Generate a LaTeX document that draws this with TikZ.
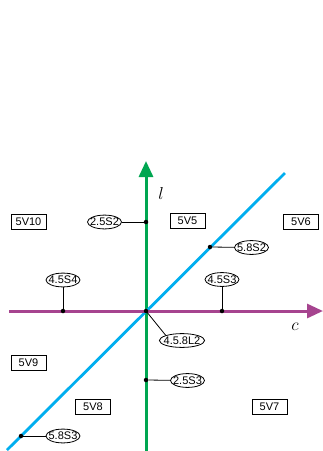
\documentclass[tikz,border=0pt]{standalone}
\usepackage{fontspec}
\setmainfont{Liberation Sans}
\usetikzlibrary{arrows.meta,shapes.geometric}
\definecolor{axisgreen}{HTML}{00A651}
\definecolor{axispurple}{HTML}{A6448F}
\definecolor{diagblue}{HTML}{00AEEF}
\begin{document}
\begin{tikzpicture}[x=1pt,y=-1pt,
  region/.style={draw=black, line width=0.8pt, rectangle, minimum width=35pt,
    minimum height=15pt, inner sep=0pt, font=\fontsize{11}{12}\selectfont},
  tag/.style={draw=black, line width=0.8pt, ellipse, inner xsep=-2.35pt,
    inner ysep=1pt, fill=white, font=\fontsize{11}{12}\selectfont},
  dot/.style={circle, fill=black, inner sep=0pt, minimum size=4.5pt},
  leader/.style={black, line width=0.8pt},
  axisline/.style={line width=3pt, -{Triangle[length=16pt,width=14pt]}},
  axislabel/.style={font=\fontsize{19}{20}\selectfont},
]
\useasboundingbox (0,0) rectangle (323,451);

% end points of the three lines
\coordinate (O) at (146,311);
\coordinate (ltop) at (146,161);
\coordinate (lbot) at (146,451);
\coordinate (cleft) at (9,311);
\coordinate (cright) at (323,311);
\coordinate (dlow) at (7,450);
\coordinate (dhigh) at (285,173);

% lines
\draw[axisgreen, axisline] (lbot) -- (ltop);
\draw[diagblue, line width=2.8pt] (dlow) -- (dhigh);
\draw[axispurple, axisline] (cleft) -- (cright);

% axis names
\node[axislabel] (lname) at (161,193) {$l$};
\node[axislabel] (cname) at (295,327) {$c$};

% region boxes
\node[region] (v10) at (28.5,221.5) {5V10};
\node[region] (v5)  at (187.5,220.5) {5V5};
\node[region] (v6)  at (301,222) {5V6};
\node[region] (v9)  at (28.5,363) {5V9};
\node[region] (v8)  at (93,406.5) {5V8};
\node[region] (v7)  at (269.5,407) {5V7};

% points on the lines
\node[dot] (p1) at (146,222) {};
\node[dot] (p2) at (210,247) {};
\node[dot] (p3) at (63,311) {};
\node[dot] (p4) at (222,311) {};
\node[dot] (p5) at (O) {};
\node[dot] (p6) at (146,380) {};
\node[dot] (p7) at (21,436) {};

% point tags
\node[tag] (s1) at (104.5,222) {2.5S2};
\node[tag] (s2) at (251.5,247.5) {5.8S2};
\node[tag] (s3) at (63,280) {4.5S4};
\node[tag] (s4) at (222,279.5) {4.5S3};
\node[tag] (s5) at (182,340.5) {4.5.8L2};
\node[tag] (s6) at (187.5,380.5) {2.5S3};
\node[tag] (s7) at (63,436) {5.8S3};

% leaders
\draw[leader] (p1) -- (s1);
\draw[leader] (p2) -- (s2);
\draw[leader] (p3) -- (s3);
\draw[leader] (p4) -- (s4);
\draw[leader] (p5.center) -- (s5.north west);
\draw[leader] (p6) -- (s6);
\draw[leader] (p7) -- (s7);
\end{tikzpicture}
\end{document}
